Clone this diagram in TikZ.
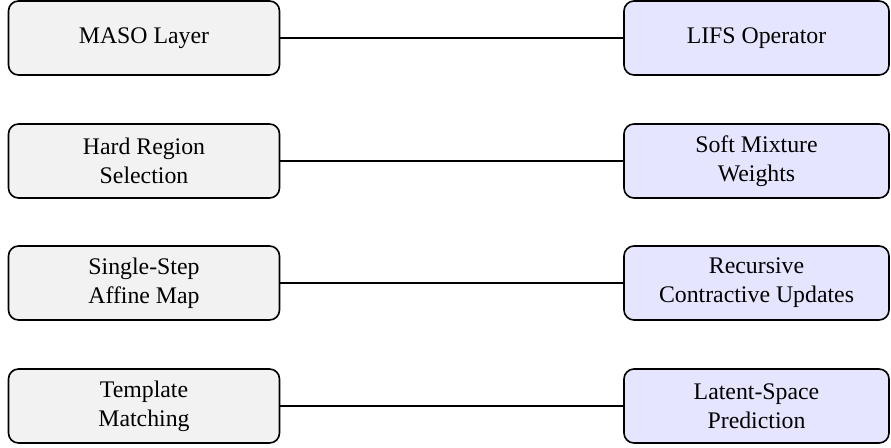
\documentclass[tikz,border=0pt]{standalone}
\usepackage{fontspec}
\setmainfont{Liberation Serif}
\begin{document}
\begin{tikzpicture}[x=1pt,y=-1pt,
  box/.style={draw=black, line width=1.6pt, rounded corners=10pt, minimum height=74pt, align=center,
    font=\fontsize{23.8}{29}\selectfont, inner sep=0pt},
  lbox/.style={box, fill=gray!10, minimum width=271pt},
  rbox/.style={box, fill=blue!10, minimum width=265pt},
  link/.style={draw=black, line width=1.6pt}]
\useasboundingbox (0,0) rectangle (891,447);
\node[lbox] (l1) at (144,38) {MASO Layer};
\node[lbox] (l2) at (144,161) {Hard Region\\Selection};
\node[lbox] (l3) at (144,283) {Single-Step\\Affine Map};
\node[lbox] (l4) at (144,406) {Template\\Matching};
\node[rbox] (r1) at (756.5,38) {LIFS Operator};
\node[rbox] (r2) at (756.5,161) {Soft Mixture\\Weights};
\node[rbox] (r3) at (756.5,283) {Recursive\\Contractive Updates};
\node[rbox] (r4) at (756.5,406) {Latent-Space\\Prediction};
\draw[link] (l1) -- (r1);
\draw[link] (l2) -- (r2);
\draw[link] (l3) -- (r3);
\draw[link] (l4) -- (r4);
\end{tikzpicture}
\end{document}
